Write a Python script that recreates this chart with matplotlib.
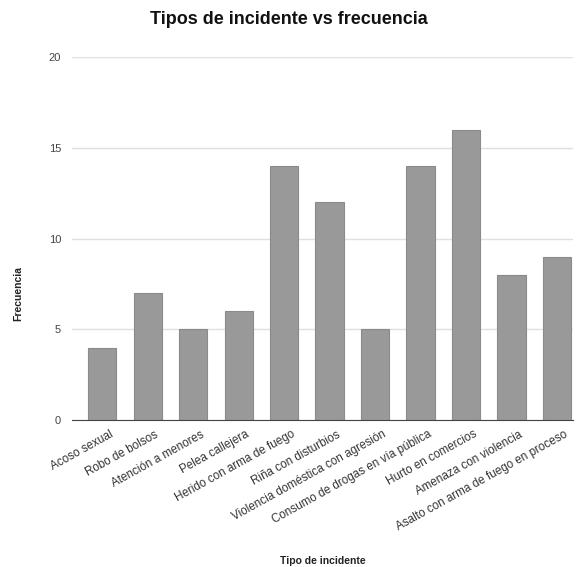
import matplotlib
matplotlib.use("Agg")
import matplotlib.pyplot as plt
import matplotlib.transforms as mtransforms

categories = ["Acoso sexual", "Robo de bolsos", "Atención a menores", "Pelea callejera",
              "Herido con arma de fuego", "Riña con disturbios",
              "Violencia doméstica con agresión", "Consumo de drogas en vía pública",
              "Hurto en comercios", "Amenaza con violencia",
              "Asalto con arma de fuego en proceso"]
values = [4, 7, 5, 6, 14, 12, 5, 14, 16, 8, 9]
yticks = [0, 5, 10, 15, 20]

plt.rcParams['font.family'] = ['Liberation Sans', 'DejaVu Sans']
fig = plt.figure(figsize=(5.77, 5.67), dpi=100)
ax = fig.add_axes([0.125, 0.259, 0.868, 0.6405])

x = list(range(len(categories)))
ax.bar(x, values, width=0.62, color="#999999", edgecolor="#8a8a8a", linewidth=0.8, zorder=3)
ax.set_ylim(0, 20)
ax.set_xlim(-0.66, 10.35)
ax.set_yticks(yticks)
ax.set_yticklabels([str(t) for t in yticks], fontsize=8, color="#444444")
ax.yaxis.grid(True, color="#e0e0e0", linewidth=1, zorder=0)
ax.set_axisbelow(True)
for s in ["top", "right", "left"]:
    ax.spines[s].set_visible(False)
ax.spines["bottom"].set_color("#444444")
ax.spines["bottom"].set_zorder(4)
ax.tick_params(axis="y", length=0, pad=8)
ax.tick_params(axis="x", length=0, pad=6)
ax.set_xticks(x)
ax.set_xticklabels(categories, rotation=29, ha="right", rotation_mode="anchor",
                   fontsize=8.4, color="#333333")
offset = mtransforms.ScaledTranslation(7 / 100, 0, fig.dpi_scale_trans)
for lbl in ax.get_xticklabels():
    lbl.set_transform(lbl.get_transform() + offset)
ax.set_xlabel("Tipo de incidente", fontsize=7.5, fontweight="bold", color="#222222")
ax.xaxis.set_label_coords(0.5, -0.375)
ax.set_ylabel("Frecuencia", fontsize=7.5, fontweight="bold", color="#222222")
ax.yaxis.set_label_coords(-0.098, 0.35)
fig.text(0.5, 0.965, "Tipos de incidente vs frecuencia", ha="center", va="center",
         fontsize=13, fontweight="bold", color="#111111")
fig.savefig("out.png", dpi=100)
